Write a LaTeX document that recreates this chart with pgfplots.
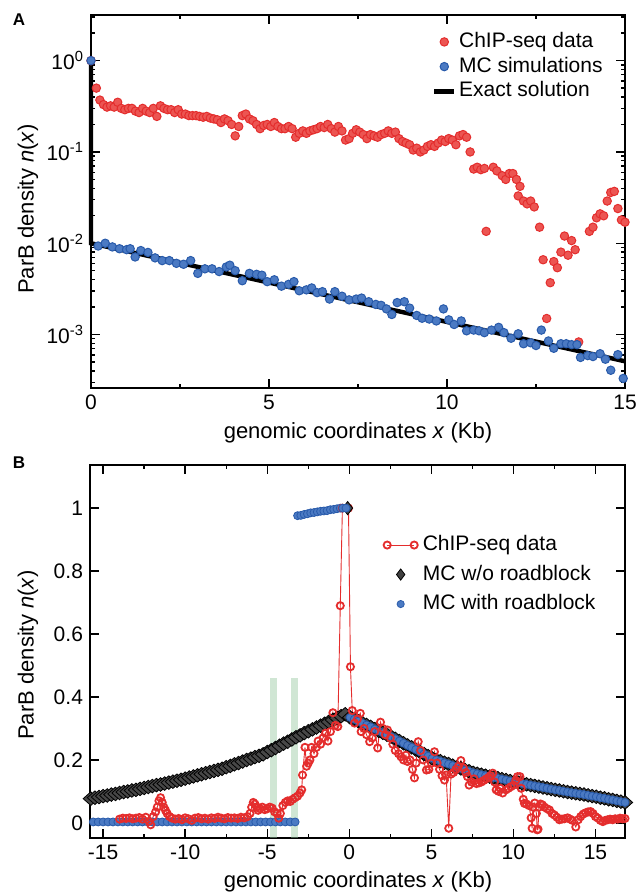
\documentclass[border=0pt]{standalone}
\usepackage{fontspec}
\setmainfont{Liberation Sans}
\usepackage{pgfplots}
\pgfplotsset{compat=1.18}

\definecolor{chipred}{RGB}{228,45,45}
\definecolor{chipredfill}{RGB}{236,85,82}
\definecolor{mcblue}{RGB}{40,90,170}
\definecolor{mcbluefill}{RGB}{75,122,195}
\definecolor{roadgreen}{RGB}{150,200,160}

\pgfplotsset{
  panel/.style={
    scale only axis,
    clip=false,
    axis line style={line width=0.8pt},
    every tick/.style={black, line width=0.7pt},
    tick align=inside,
    major tick length=4.5pt,
    minor tick length=2.2pt,
    tick label style={font=\fontsize{10.5}{12}\selectfont},
    legend cell align=left,
    legend style={draw=none, fill=none, inner sep=0pt, row sep=0pt,
      font=\fontsize{10.5}{12}\selectfont},
  },
  shortline/.style={legend image code/.code={\draw[##1] plot coordinates {(0pt,0pt) (10pt,0pt)};}},
  midmark/.style={legend image code/.code={\draw[##1] plot coordinates {(5pt,0pt)};}},
  chipline/.style={legend image code/.code={\draw[##1] plot coordinates {(0pt,0pt) (13.5pt,0pt)};}},
  onemark/.style={legend image code/.code={\draw[##1] plot coordinates {(6.75pt,0pt)};}},
}

\begin{document}
\begin{tikzpicture}

% ---------------- panel A ----------------
\begin{axis}[panel,
  at={(45.5pt,253.5pt)}, anchor=south west,
  width=267pt, height=186.5pt,
  ymode=log,
  xmin=0, xmax=15, ymin=2.6e-4, ymax=3.16,
  xtick={0,5,10,15}, xticklabels={0,5,10,15},
  minor xtick={2.5,7.5,12.5},
  ytick={0.001,0.01,0.1,1},
  yticklabels={10\textsuperscript{-3},10\textsuperscript{-2},10\textsuperscript{-1},10\textsuperscript{0}},
  minor ytick={3e-4,4e-4,5e-4,6e-4,7e-4,8e-4,9e-4,
               2e-3,3e-3,4e-3,5e-3,6e-3,7e-3,8e-3,9e-3,
               2e-2,3e-2,4e-2,5e-2,6e-2,7e-2,8e-2,9e-2,
               0.2,0.3,0.4,0.5,0.6,0.7,0.8,0.9,2,3},
  legend style={at={(rel axis cs:0.638,0.962)}, anchor=north west,
    nodes={inner sep=1.3pt, text height=7.6pt, text depth=2.15pt}},
]
% ChIP-seq data
\addplot[midmark, only marks, mark=*, mark size=2.1pt,
  mark options={draw=chipred, fill=chipredfill, line width=0.5pt}] coordinates {
(0,1.0) (0.15,0.50) (0.25,0.37) (0.35,0.33) (0.45,0.31) (0.55,0.32) (0.65,0.31)
(0.75,0.35) (0.85,0.30) (0.95,0.29) (1.05,0.30) (1.15,0.30) (1.25,0.28) (1.35,0.27)
(1.45,0.30) (1.55,0.28) (1.65,0.27) (1.75,0.30) (1.85,0.245) (1.95,0.32) (2.05,0.30)
(2.15,0.29) (2.25,0.29) (2.35,0.27) (2.45,0.29) (2.55,0.26) (2.65,0.26) (2.75,0.25)
(2.85,0.25) (2.95,0.25) (3.05,0.245) (3.15,0.24) (3.25,0.245) (3.35,0.235) (3.45,0.23)
(3.55,0.225) (3.65,0.21) (3.75,0.23) (3.85,0.22) (3.95,0.20) (4.05,0.15) (4.15,0.19)
(4.25,0.25) (4.35,0.26) (4.45,0.23) (4.55,0.22) (4.65,0.20) (4.75,0.18) (4.85,0.195)
(4.95,0.20) (5.05,0.19) (5.15,0.21) (5.25,0.19) (5.35,0.18) (5.45,0.18) (5.55,0.19)
(5.65,0.18) (5.75,0.145) (5.85,0.16) (5.95,0.17) (6.05,0.16) (6.15,0.17) (6.25,0.175)
(6.35,0.18) (6.45,0.19) (6.55,0.185) (6.65,0.20) (6.75,0.18) (6.85,0.165) (6.95,0.19)
(7.05,0.17) (7.15,0.135) (7.25,0.14) (7.35,0.16) (7.45,0.175) (7.55,0.165) (7.65,0.155)
(7.75,0.14) (7.85,0.155) (7.95,0.15) (8.05,0.145) (8.15,0.155) (8.25,0.16) (8.35,0.17)
(8.45,0.16) (8.55,0.165) (8.65,0.14) (8.75,0.13) (8.85,0.125) (8.95,0.12) (9.05,0.105)
(9.15,0.11) (9.25,0.10) (9.35,0.105) (9.45,0.115) (9.55,0.12) (9.65,0.115) (9.75,0.125)
(9.85,0.135) (9.95,0.13) (10.05,0.14) (10.15,0.135) (10.25,0.12) (10.35,0.15) (10.45,0.155)
(10.55,0.145) (10.65,0.10) (10.75,0.065) (10.85,0.068) (10.95,0.064) (11.05,0.066)
(11.1,0.0135) (11.3,0.068) (11.4,0.062) (11.55,0.055) (11.65,0.050) (11.75,0.058)
(11.85,0.058) (11.95,0.050) (12.05,0.042) (12.0,0.033) (12.15,0.029) (12.25,0.027)
(12.35,0.029) (12.45,0.025) (12.6,0.015) (12.7,0.0066) (12.8,0.0015) (12.9,0.0037)
(13.0,0.0063) (13.1,0.0054) (13.2,0.008) (13.3,0.012) (13.4,0.0074) (13.5,0.0107)
(13.6,0.0085) (13.7,0.00083) (14.0,0.0135) (14.1,0.015) (14.2,0.019) (14.3,0.021)
(14.4,0.020) (14.5,0.029) (14.6,0.036) (14.7,0.037) (14.8,0.024) (14.9,0.018) (15.0,0.017)
};
\addlegendentry{ChIP-seq data}
% MC simulations
\addplot[midmark, only marks, mark=*, mark size=2.1pt,
  mark options={draw=mcblue, fill=mcbluefill, line width=0.5pt}] coordinates {
(0,1.0) (0.2,0.00933) (0.4,0.0100) (0.6,0.00912) (0.8,0.00871) (1.0,0.00851) (1.1,0.00871)
(1.24,0.00708) (1.4,0.00832) (1.6,0.00794) (1.8,0.00692) (2.0,0.00646) (2.2,0.00646)
(2.4,0.00603) (2.6,0.00589) (2.8,0.00646) (3.0,0.00468) (3.2,0.00525) (3.4,0.00525)
(3.6,0.00490) (3.8,0.00550) (3.9,0.00575) (4.05,0.00501) (4.25,0.00389) (4.45,0.00468)
(4.65,0.00457) (4.8,0.00447) (4.95,0.00380) (5.15,0.00398) (5.35,0.00339) (5.55,0.00355)
(5.7,0.00380) (5.85,0.00302) (6.05,0.00309) (6.2,0.00324) (6.35,0.00288) (6.5,0.00295)
(6.7,0.00245) (6.85,0.00295) (7.05,0.00263) (7.25,0.00240) (7.45,0.00245) (7.6,0.00251)
(7.8,0.00229) (8.0,0.00214) (8.15,0.00209) (8.3,0.00191) (8.45,0.00166) (8.6,0.00224)
(8.8,0.00229) (8.95,0.00195) (9.15,0.00162) (9.3,0.00151) (9.5,0.00148) (9.7,0.00141)
(9.9,0.00191) (10.05,0.00145) (10.2,0.00129) (10.4,0.00141) (10.55,0.00110) (10.75,0.00112)
(10.9,0.00110) (11.05,0.00105) (11.25,0.00112) (11.45,0.00120) (11.6,0.00105) (11.8,0.000912)
(12.0,0.00102) (12.15,0.000794) (12.35,0.000813) (12.5,0.000759) (12.65,0.00112)
(12.85,0.000851) (13.0,0.000708) (13.2,0.000794) (13.35,0.000794) (13.5,0.000776)
(13.65,0.000776) (13.75,0.000562) (13.95,0.000589) (14.1,0.000575) (14.3,0.000617)
(14.45,0.000537) (14.6,0.000407) (14.8,0.000603) (14.95,0.000331)
};
\addlegendentry{MC simulations}
% exact solution
\addplot[shortline, black, line width=2.2pt] coordinates {(0,1) (0,0.01) (15,0.00051)};
\addlegendentry{Exact solution}
\end{axis}

% ---------------- panel B ----------------
\begin{axis}[panel,
  at={(45pt,28.5pt)}, anchor=south west,
  width=267.5pt, height=186.5pt,
  xmin=-15.8, xmax=16.8, ymin=-0.048, ymax=1.137,
  xtick={-15,-10,-5,0,5,10,15}, xticklabels={-15,-10,-5,0,5,10,15},
  minor xtick={-12.5,-7.5,-2.5,2.5,7.5,12.5},
  ytick={0,0.2,0.4,0.6,0.8,1}, yticklabels={0,0.2,0.4,0.6,0.8,1},
  legend style={at={(rel axis cs:0.548,0.826)}, anchor=north west,
    nodes={inner sep=2.5pt, text height=7.6pt, text depth=2.15pt}},
]
\addlegendimage{chipred, line width=0.5pt, mark=o, mark size=1.8pt,
  mark options={line width=0.9pt}, chipline}
\addlegendentry{ChIP-seq data}
\addlegendimage{only marks, mark=diamond*, mark size=2.8pt,
  mark options={draw=black, fill=black!75, line width=0.4pt}, onemark}
\addlegendentry{MC w/o roadblock}
\addlegendimage{only marks, mark=*, mark size=1.8pt,
  mark options={draw=mcblue, fill=mcbluefill, line width=0.4pt}, onemark}
\addlegendentry{MC with roadblock}

% MC without roadblock
\addplot[forget plot, only marks, mark=diamond*, mark size=3.4pt,
  mark options={draw=black, fill=black!72, line width=0.4pt, xscale=1.5}] coordinates {
(-15.75,0.077) (-15.5,0.080) (-15.25,0.082) (-15.0,0.085) (-14.75,0.087) (-14.5,0.090)
(-14.25,0.092) (-14.0,0.095) (-13.75,0.098) (-13.5,0.100) (-13.25,0.103) (-13.0,0.105)
(-12.75,0.108) (-12.5,0.111) (-12.25,0.114) (-12.0,0.117) (-11.75,0.120) (-11.5,0.122)
(-11.25,0.125) (-11.0,0.128) (-10.75,0.131) (-10.5,0.134) (-10.25,0.137) (-10.0,0.1405)
(-9.75,0.144) (-9.5,0.1475) (-9.25,0.151) (-9.0,0.1545) (-8.75,0.158) (-8.5,0.1615)
(-8.25,0.165) (-8.0,0.1685) (-7.75,0.172) (-7.5,0.177) (-7.25,0.181) (-7.0,0.186)
(-6.75,0.190) (-6.5,0.195) (-6.25,0.200) (-6.0,0.204) (-5.75,0.209) (-5.5,0.213)
(-5.25,0.218) (-5.0,0.225) (-4.75,0.231) (-4.5,0.238) (-4.25,0.245) (-4.0,0.252)
(-3.75,0.258) (-3.5,0.265) (-3.25,0.272) (-3.0,0.278) (-2.75,0.285) (-2.5,0.291)
(-2.25,0.297) (-2.0,0.303) (-1.75,0.309) (-1.5,0.315) (-1.25,0.321) (-1.0,0.327)
(-0.75,0.333) (-0.5,0.339) (-0.25,0.345)
(0.05,0.335) (0.3,0.329) (0.55,0.323) (0.8,0.317) (1.05,0.311) (1.3,0.305) (1.55,0.298)
(1.8,0.292) (2.05,0.286) (2.3,0.280) (2.55,0.274) (2.8,0.267) (3.05,0.260) (3.3,0.253)
(3.55,0.246) (3.8,0.240) (4.05,0.233) (4.3,0.226) (4.55,0.219) (4.8,0.212) (5.05,0.205)
(5.3,0.200) (5.55,0.196) (5.8,0.191) (6.05,0.187) (6.3,0.182) (6.55,0.177) (6.8,0.173)
(7.05,0.168) (7.3,0.164) (7.55,0.159) (7.8,0.156) (8.05,0.153) (8.3,0.150) (8.55,0.147)
(8.8,0.144) (9.05,0.142) (9.3,0.139) (9.55,0.136) (9.8,0.133) (10.05,0.130) (10.3,0.1275)
(10.55,0.125) (10.8,0.1225) (11.05,0.120) (11.3,0.1175) (11.55,0.115) (11.8,0.1125)
(12.05,0.110) (12.3,0.1075) (12.55,0.105) (12.8,0.103) (13.05,0.1005) (13.3,0.098)
(13.55,0.096) (13.8,0.094) (14.05,0.092) (14.3,0.090) (14.55,0.0875) (14.8,0.085)
(15.05,0.083) (15.3,0.080) (15.55,0.078) (15.8,0.075) (16.05,0.073) (16.3,0.070)
(16.55,0.0675) (16.8,0.065)
};
% MC with roadblock
\addplot[forget plot, only marks, mark=*, mark size=2pt,
  mark options={draw=mcblue, fill=mcbluefill, line width=0.4pt}] coordinates {
(-15.6,0.003) (-15.3,0.003) (-15.0,0.003) (-14.7,0.003) (-14.4,0.003) (-14.1,0.003)
(-13.8,0.003) (-13.5,0.003) (-13.2,0.003) (-12.9,0.003) (-12.6,0.003) (-12.3,0.003)
(-12.0,0.003) (-11.7,0.003) (-11.4,0.003) (-11.1,0.003) (-10.8,0.003) (-10.5,0.003)
(-10.2,0.003) (-9.9,0.003) (-9.6,0.003) (-9.3,0.003) (-9.0,0.003) (-8.7,0.003)
(-8.4,0.003) (-8.1,0.003) (-7.8,0.003) (-7.5,0.003) (-7.2,0.003) (-6.9,0.003)
(-6.6,0.003) (-6.3,0.003) (-6.0,0.003) (-5.7,0.003) (-5.4,0.003) (-5.1,0.003)
(-4.8,0.003) (-4.5,0.003) (-4.2,0.003) (-3.9,0.003) (-3.6,0.003) (-3.3,0.003)
(-3.15,0.976) (-2.95,0.977) (-2.75,0.980) (-2.55,0.982) (-2.35,0.985) (-2.15,0.986)
(-1.95,0.988) (-1.75,0.990) (-1.55,0.991) (-1.35,0.992) (-1.15,0.995) (-0.95,0.996)
(-0.75,0.998) (-0.55,1.0)
(0.05,0.335) (0.3,0.329) (0.55,0.323) (0.8,0.317) (1.05,0.311) (1.3,0.305) (1.55,0.298)
(1.8,0.292) (2.05,0.286) (2.3,0.280) (2.55,0.274) (2.8,0.267) (3.05,0.260) (3.3,0.253)
(3.55,0.246) (3.8,0.240) (4.05,0.233) (4.3,0.226) (4.55,0.219) (4.8,0.212) (5.05,0.205)
(5.3,0.200) (5.55,0.196) (5.8,0.191) (6.05,0.187) (6.3,0.182) (6.55,0.177) (6.8,0.173)
(7.05,0.168) (7.3,0.164) (7.55,0.159) (7.8,0.156) (8.05,0.153) (8.3,0.150) (8.55,0.147)
(8.8,0.144) (9.05,0.142) (9.3,0.139) (9.55,0.136) (9.8,0.133) (10.05,0.130) (10.3,0.1275)
(10.55,0.125) (10.8,0.1225) (11.05,0.120) (11.3,0.1175) (11.55,0.115) (11.8,0.1125)
(12.05,0.110) (12.3,0.1075) (12.55,0.105) (12.8,0.103) (13.05,0.1005) (13.3,0.098)
(13.55,0.096) (13.8,0.094) (14.05,0.092) (14.3,0.090) (14.55,0.0875) (14.8,0.085)
(15.05,0.083) (15.3,0.080) (15.55,0.078) (15.8,0.075) (16.05,0.073) (16.3,0.070)
(16.55,0.0675) (16.8,0.065)
};
% ChIP-seq data
\addplot[forget plot, chipred, line width=0.45pt, mark=o, mark size=1.8pt,
  mark options={line width=0.9pt}] coordinates {
(-14.0,0.012) (-13.8,0.015) (-13.6,0.014) (-13.4,0.016) (-13.2,0.013) (-13.0,0.015)
(-12.8,0.017) (-12.6,0.012) (-12.4,0.018) (-12.2,0.005) (-12.1,-0.006) (-11.95,0.02)
(-11.8,0.035) (-11.7,0.05) (-11.6,0.07) (-11.5,0.08) (-11.4,0.065) (-11.3,0.05)
(-11.2,0.04) (-11.1,0.03) (-10.95,0.02) (-10.8,0.015) (-10.6,0.012) (-10.4,0.014)
(-10.2,0.01) (-10.0,0.016) (-9.8,0.013) (-9.6,0.008) (-9.4,0.015) (-9.2,0.017)
(-9.0,0.013) (-8.8,0.015) (-8.6,0.012) (-8.4,0.016) (-8.2,0.014) (-8.0,0.018)
(-7.8,0.015) (-7.6,0.013) (-7.4,0.017) (-7.2,0.015) (-7.0,0.016) (-6.8,0.014)
(-6.6,0.018) (-6.4,0.016) (-6.2,0.02) (-6.05,0.03) (-5.95,0.05) (-5.85,0.065)
(-5.75,0.06) (-5.65,0.05) (-5.55,0.04) (-5.45,0.045) (-5.3,0.05) (-5.15,0.042)
(-5.0,0.045) (-4.85,0.05) (-4.7,0.047) (-4.55,0.035) (-4.4,0.03) (-4.3,0.015)
(-4.2,0.03) (-4.05,0.055) (-3.9,0.065) (-3.75,0.07) (-3.6,0.068) (-3.45,0.075)
(-3.3,0.08) (-3.15,0.085) (-3.0,0.095) (-2.9,0.105) (-2.85,0.152) (-2.7,0.24)
(-2.6,0.18) (-2.5,0.19) (-2.4,0.2) (-2.3,0.24) (-2.15,0.22) (-2.0,0.24) (-1.9,0.26)
(-1.75,0.25) (-1.6,0.27) (-1.45,0.285) (-1.3,0.26) (-1.15,0.29) (-1.0,0.35)
(-0.85,0.31) (-0.7,0.306) (-0.55,0.69) (-0.42,1.0) (-0.05,1.0) (0.07,0.496)
(0.18,0.357) (0.32,0.317) (0.5,0.33) (0.67,0.348) (0.72,0.29) (0.9,0.30) (1.05,0.28)
(1.24,0.258) (1.4,0.27) (1.55,0.29) (1.73,0.238) (1.9,0.32) (2.05,0.30) (2.2,0.28)
(2.33,0.295) (2.5,0.27) (2.65,0.25) (2.8,0.23) (3.0,0.22) (3.15,0.21) (3.3,0.2)
(3.45,0.215) (3.55,0.195) (3.7,0.2) (3.85,0.17) (3.97,0.143) (4.07,0.19) (4.2,0.258)
(4.35,0.23) (4.5,0.2) (4.7,0.168) (4.85,0.17) (5.0,0.19) (5.19,0.226) (5.35,0.19)
(5.5,0.17) (5.65,0.15) (5.8,0.136) (5.9,0.152) (6.06,-0.017) (6.2,0.155) (6.35,0.16)
(6.5,0.17) (6.65,0.18) (6.8,0.198) (6.95,0.175) (7.1,0.16) (7.2,0.147) (7.3,0.12)
(7.45,0.13) (7.6,0.14) (7.75,0.125) (7.9,0.127) (8.05,0.13) (8.2,0.135) (8.35,0.14)
(8.5,0.145) (8.6,0.15) (8.74,0.158) (8.85,0.13) (8.95,0.105) (9.1,0.1) (9.2,0.11)
(9.35,0.095) (9.55,0.105) (9.7,0.11) (9.85,0.115) (10.0,0.12) (10.15,0.135)
(10.25,0.147) (10.4,0.147) (10.47,0.11) (10.6,0.075) (10.67,0.062) (10.8,0.06)
(10.95,0.055) (11.08,0.016) (11.14,-0.017) (11.2,0.05) (11.3,0.063) (11.4,0.03)
(11.45,-0.022) (11.5,-0.02) (11.55,0.05) (11.65,0.06) (11.77,0.057) (11.9,0.05)
(12.05,0.045) (12.2,0.041) (12.35,0.03) (12.5,0.025) (12.65,0.018) (12.8,0.01)
(12.95,0.012) (13.1,0.013) (13.3,0.016) (13.45,0.012) (13.6,0.008) (13.8,-0.013)
(13.95,0.01) (14.1,0.02) (14.25,0.028) (14.4,0.032) (14.55,0.035) (14.7,0.036)
(14.85,0.03) (15.0,0.02) (15.15,0.015) (15.3,0.008) (15.45,0.004) (15.6,0.008)
(15.75,0.01) (15.9,0.012) (16.05,0.01) (16.2,0.013) (16.35,0.012) (16.5,0.015)
(16.65,0.013) (16.8,0.014)
};
% points at the loading site, drawn over the ChIP-seq trace
\addplot[forget plot, only marks, mark=diamond*, mark size=3.3pt,
  mark options={draw=black, fill=black!72, line width=0.4pt}] coordinates {(-0.1,1.0)};
\addplot[forget plot, only marks, mark=*, mark size=2pt,
  mark options={draw=mcblue, fill=mcbluefill, line width=0.4pt}] coordinates {
(-0.4,1.0) (-0.2,1.0)};
% roadblocks
\addplot[forget plot, draw=none, fill=roadgreen, fill opacity=0.45] coordinates {
(-4.85,-0.048) (-4.42,-0.048) (-4.42,0.46) (-4.85,0.46)} -- cycle;
\addplot[forget plot, draw=none, fill=roadgreen, fill opacity=0.45] coordinates {
(-3.57,-0.048) (-3.15,-0.048) (-3.15,0.46) (-3.57,0.46)} -- cycle;
\end{axis}

% labels
\node[font=\fontsize{11}{13}\selectfont, rotate=90] at (14pt,343pt) {ParB density \textit{n}(\textit{x})};
\node[font=\fontsize{11}{13}\selectfont, anchor=base] at (179pt,228pt) {genomic coordinates \textit{x} (Kb)};
\node[font=\fontsize{11}{13}\selectfont, rotate=90] at (14pt,120pt) {ParB density \textit{n}(\textit{x})};
\node[font=\fontsize{11}{13}\selectfont, anchor=base] at (179pt,4pt) {genomic coordinates \textit{x} (Kb)};
\node[font=\fontsize{8.5}{10}\selectfont\bfseries] at (9.5pt,437.5pt) {A};
\node[font=\fontsize{8.5}{10}\selectfont\bfseries] at (9.5pt,216pt) {B};

\pgfresetboundingbox
\useasboundingbox (0,0) rectangle (319pt,447.5pt);
\end{tikzpicture}
\end{document}
